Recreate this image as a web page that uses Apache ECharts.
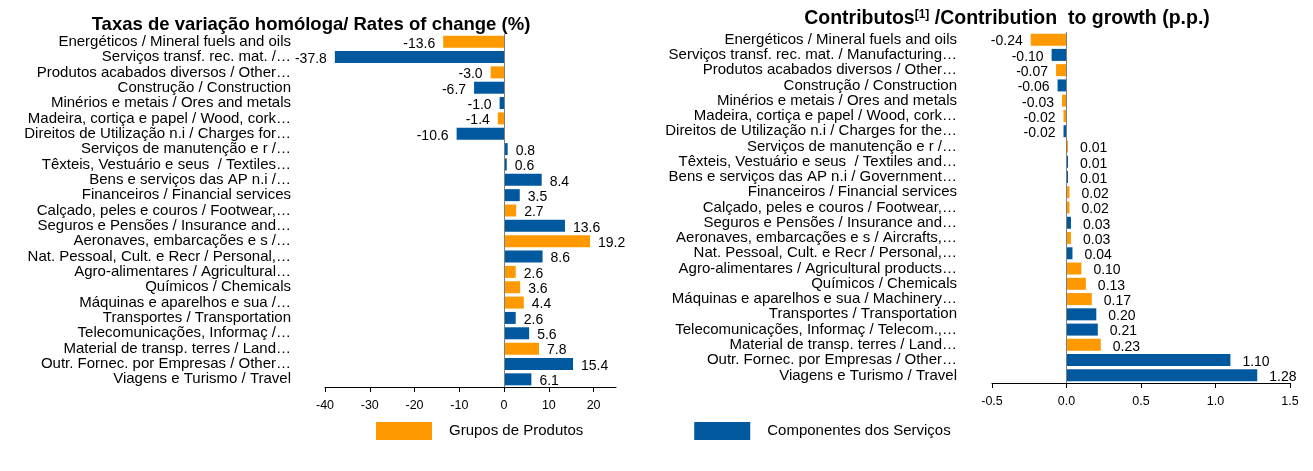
<!DOCTYPE html>
<html>
<head>
<meta charset="utf-8">
<script src="https://cdn.jsdelivr.net/npm/echarts@6/dist/echarts.min.js"></script>
<style>
  html, body { margin: 0; padding: 0; background: #fff; }
  #chart { width: 1313px; height: 471px; }
</style>
</head>
<body>
<div id="chart"></div>
<script>
// taxas de variacao (grafico da esquerda)
var rateCats = [
  'Energéticos / Mineral fuels and oils',
  'Serviços transf. rec. mat. /…',
  'Produtos acabados diversos / Other…',
  'Construção / Construction',
  'Minérios e metais / Ores and metals',
  'Madeira, cortiça e papel / Wood, cork…',
  'Direitos de Utilização n.i / Charges for…',
  'Serviços de manutenção e r /…',
  'Têxteis, Vestuário e seus  / Textiles…',
  'Bens e serviços das AP n.i /…',
  'Financeiros / Financial services',
  'Calçado, peles e couros / Footwear,…',
  'Seguros e Pensões / Insurance and…',
  'Aeronaves, embarcações e s /…',
  'Nat. Pessoal, Cult. e Recr / Personal,…',
  'Agro-alimentares / Agricultural…',
  'Químicos / Chemicals',
  'Máquinas e aparelhos e sua /…',
  'Transportes / Transportation',
  'Telecomunicações, Informaç /…',
  'Material de transp. terres / Land…',
  'Outr. Fornec. por Empresas / Other…',
  'Viagens e Turismo / Travel'
];
var rateValues = [-13.6, -37.8, -3.0, -6.7, -1.0, -1.4, -10.6, 0.8, 0.6, 8.4, 3.5, 2.7, 13.6, 19.2, 8.6, 2.6, 3.6, 4.4, 2.6, 5.6, 7.8, 15.4, 6.1];
// P = produtos, S = servicos (cor de cada barra)
var rateGroup = ['P', 'S', 'P', 'S', 'S', 'P', 'S', 'S', 'S', 'S', 'S', 'P', 'S', 'P', 'S', 'P', 'P', 'P', 'S', 'S', 'P', 'S', 'S'];
var rateTicks = [-40, -30, -20, -10, 0, 10, 20];

// contributos (grafico da direita)
var contribCats = [
  'Energéticos / Mineral fuels and oils',
  'Serviços transf. rec. mat. / Manufacturing…',
  'Produtos acabados diversos / Other…',
  'Construção / Construction',
  'Minérios e metais / Ores and metals',
  'Madeira, cortiça e papel / Wood, cork…',
  'Direitos de Utilização n.i / Charges for the…',
  'Serviços de manutenção e r /…',
  'Têxteis, Vestuário e seus  / Textiles and…',
  'Bens e serviços das AP n.i / Government…',
  'Financeiros / Financial services',
  'Calçado, peles e couros / Footwear,…',
  'Seguros e Pensões / Insurance and…',
  'Aeronaves, embarcações e s / Aircrafts,…',
  'Nat. Pessoal, Cult. e Recr / Personal,…',
  'Agro-alimentares / Agricultural products…',
  'Químicos / Chemicals',
  'Máquinas e aparelhos e sua / Machinery…',
  'Transportes / Transportation',
  'Telecomunicações, Informaç / Telecom.,…',
  'Material de transp. terres / Land…',
  'Outr. Fornec. por Empresas / Other…',
  'Viagens e Turismo / Travel'
];
var contribValues = [-0.24, -0.10, -0.07, -0.06, -0.03, -0.02, -0.02, 0.01, 0.01, 0.01, 0.02, 0.02, 0.03, 0.03, 0.04, 0.10, 0.13, 0.17, 0.20, 0.21, 0.23, 1.10, 1.28];
var contribGroup = ['P', 'S', 'P', 'S', 'P', 'P', 'S', 'P', 'S', 'S', 'P', 'P', 'S', 'P', 'S', 'P', 'P', 'P', 'S', 'S', 'P', 'S', 'S'];
var contribTicks = [-0.5, 0, 0.5, 1.0, 1.5];

var PROD = 'Grupos de Produtos';
var SERV = 'Componentes dos Serviços';
var ORANGE = '#FF9900';
var BLUE = '#00589F';
var FONT = 'Liberation Sans, Arial, sans-serif';

// so fica o valor se a barra for do grupo pedido
function pick(values, groups, g, posDist) {
  return values.map(function (v, i) {
    if (groups[i] !== g) return null;
    return { value: v, label: { position: v < 0 ? 'left' : 'right', distance: v < 0 ? 8 : posDist } };
  });
}

function barSeries(name, color, idx, values, groups, g, digits, posDist) {
  var s = {
    name: name,
    type: 'bar',
    xAxisIndex: idx,
    yAxisIndex: idx,
    barWidth: 12,
    barGap: '-100%',
    itemStyle: { color: color },
    label: {
      show: true,
      offset: [0, 2],
      color: '#000',
      fontSize: 14,
      fontFamily: FONT,
      formatter: function (p) { return p.value.toFixed(digits); }
    },
    emphasis: { disabled: true },
    data: pick(values, groups, g, posDist)
  };
  if (g === 'P') {
    // linha vertical no zero
    s.markLine = {
      silent: true,
      symbol: 'none',
      label: { show: false },
      lineStyle: { color: '#7f7f7f', width: 1, type: 'solid' },
      data: [{ xAxis: 0 }]
    };
  }
  return s;
}

function valueAxis(idx, min, max, ticks, digits) {
  return {
    type: 'value',
    gridIndex: idx,
    min: min,
    max: max,
    splitLine: { show: false },
    axisLine: { show: true, onZero: false, lineStyle: { color: '#000' } },
    axisTick: { show: true, length: 5, customValues: ticks, lineStyle: { color: '#000' } },
    axisLabel: {
      customValues: ticks,
      margin: 12,
      color: '#000',
      fontSize: 12.5,
      fontFamily: FONT,
      formatter: function (v) { return v.toFixed(digits); }
    }
  };
}

function catAxis(idx, cats, margin) {
  return {
    type: 'category',
    gridIndex: idx,
    inverse: true,
    data: cats,
    axisLine: { show: false, onZero: false },
    axisTick: { show: false },
    axisLabel: { interval: 0, margin: margin, color: '#000', fontSize: 15, fontFamily: FONT }
  };
}

var chart = echarts.init(document.getElementById('chart'));
chart.setOption({
  animation: false,
  title: [
    {
      text: 'Taxas de variação homóloga/ Rates of change (%)',
      left: 306, top: 10, textAlign: 'center',
      textStyle: { fontSize: 18.5, fontWeight: 'bold', color: '#000', fontFamily: FONT }
    },
    {
      text: 'Contributos{s|[1]} /Contribution  to growth (p.p.)',
      left: 1002, top: 4, textAlign: 'center',
      textStyle: {
        fontSize: 19.5, fontWeight: 'bold', color: '#000', fontFamily: FONT,
        rich: { s: { fontSize: 12, fontWeight: 'bold', color: '#000', verticalAlign: 'top', padding: [0, 0, 8, 0], fontFamily: FONT } }
      }
    }
  ],
  legend: {
    left: 376,
    top: 422,
    padding: 0,
    itemWidth: 56,
    itemHeight: 18,
    itemGap: 111,
    icon: 'rect',
    selectedMode: false,
    textStyle: { fontSize: 15, color: '#000', fontFamily: FONT, padding: [0, 0, 0, 12] },
    data: [PROD, SERV]
  },
  grid: [
    { left: 325, width: 291, top: 34, height: 353 },
    { left: 992, width: 298, top: 32, height: 351 }
  ],
  xAxis: [
    valueAxis(0, -40, 25, rateTicks, 0),
    valueAxis(1, -0.5, 1.5, contribTicks, 1)
  ],
  yAxis: [catAxis(0, rateCats, 34), catAxis(1, contribCats, 35)],
  series: [
    barSeries(PROD, ORANGE, 0, rateValues, rateGroup, 'P', 1, 8),
    barSeries(SERV, BLUE, 0, rateValues, rateGroup, 'S', 1, 8),
    barSeries(PROD, ORANGE, 1, contribValues, contribGroup, 'P', 2, 12),
    barSeries(SERV, BLUE, 1, contribValues, contribGroup, 'S', 2, 12)
  ]
});
window.addEventListener('resize', chart.resize);
</script>
</body>
</html>
